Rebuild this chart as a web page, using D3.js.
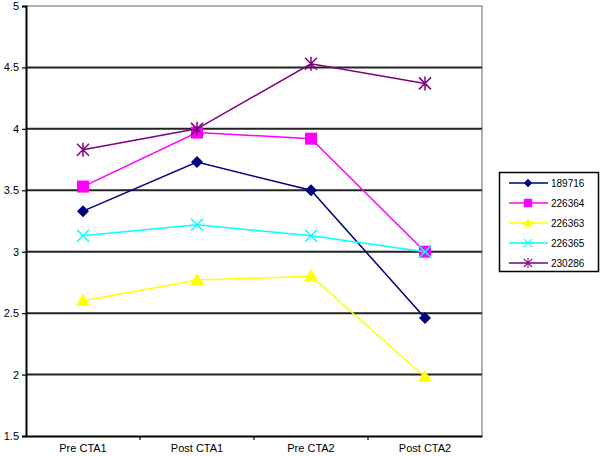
<!DOCTYPE html>
<html><head><meta charset="utf-8">
<script src="https://cdn.jsdelivr.net/npm/d3@7"></script>
<style>body{margin:0;background:#fff}svg{display:block}text{font-family:"Liberation Sans",Arial,sans-serif}</style>
</head><body>
<svg id="c" width="600" height="456"></svg>
<script>
const categories = ["Pre CTA1", "Post CTA1", "Pre CTA2", "Post CTA2"];
const seriesNames = ["189716", "226364", "226363", "226365", "230286"];
const s189716 = [3.33, 3.73, 3.5, 2.46];
const s226364 = [3.53, 3.97, 3.92, 3.0];
const s226363 = [2.6, 2.77, 2.8, 1.98];
const s226365 = [3.13, 3.22, 3.13, 3.0];
const s230286 = [3.83, 4.0, 4.53, 4.37];
const yTicks = [1.5, 2, 2.5, 3, 3.5, 4, 4.5, 5];
const colors = ["#000080", "#ff00ff", "#ffff00", "#00ffff", "#800080"];
const markers = ["diamond", "square", "triangle", "x", "star"];
const seriesValues = [s189716, s226364, s226363, s226365, s230286];

const svg = d3.select("#c");
const L = 26, R = 482, T = 6, B = 436;
const x = d3.scaleBand().domain(categories).range([L, R]);
const y = d3.scaleLinear().domain([1.5, 5]).range([B, T]);

// plot border (top/right gray)
svg.append("path").attr("d", `M${L},${T}H${R}V${B}`).attr("fill", "none").attr("stroke", "#999").attr("stroke-width", 1.5);
// gridlines
svg.append("g").selectAll("line").data(yTicks.filter(t => t > 1.5 && t < 5)).join("line")
  .attr("x1", L).attr("x2", R).attr("y1", d => y(d)).attr("y2", d => y(d))
  .attr("stroke", "#222").attr("stroke-width", 2);

// y axis
const ya = svg.append("g").attr("transform", `translate(${L},0)`)
  .call(d3.axisLeft(y).tickValues(yTicks).tickSize(4).tickPadding(3).tickFormat(d => String(d)));
ya.select(".domain").attr("stroke", "#000").attr("stroke-width", 2);
ya.selectAll(".tick line").attr("stroke", "#000").attr("stroke-width", 1.2);
ya.selectAll("text").attr("font-size", 11).attr("fill", "#000").attr("font-family", "Liberation Sans, Arial");

// x axis
const xa = svg.append("g").attr("transform", `translate(0,${B})`)
  .call(d3.axisBottom(x).tickSize(0).tickPadding(8));
xa.select(".domain").attr("stroke", "#000").attr("stroke-width", 2);
xa.selectAll("text").attr("font-size", 11).attr("fill", "#000").attr("font-family", "Liberation Sans, Arial");
svg.append("g").selectAll("line").data(categories.slice(1)).join("line")
  .attr("x1", d => x(d)).attr("x2", d => x(d)).attr("y1", B).attr("y2", B + 4)
  .attr("stroke", "#000").attr("stroke-width", 1.2);

function drawMarker(g, type, color, cx, cy) {
  if (type === "diamond") {
    g.append("path").attr("d", `M${cx},${cy-6}L${cx+6},${cy}L${cx},${cy+6}L${cx-6},${cy}Z`).attr("fill", color);
  } else if (type === "square") {
    g.append("rect").attr("x", cx-6).attr("y", cy-6).attr("width", 12).attr("height", 12).attr("fill", color);
  } else if (type === "triangle") {
    g.append("path").attr("d", `M${cx},${cy-7}L${cx+7},${cy+5}L${cx-7},${cy+5}Z`).attr("fill", color);
  } else if (type === "x") {
    g.append("path").attr("d", `M${cx-6},${cy-6}L${cx+6},${cy+6}M${cx+6},${cy-6}L${cx-6},${cy+6}`).attr("stroke", color).attr("stroke-width", 1.5);
  } else if (type === "star") {
    g.append("path").attr("d", `M${cx-6},${cy-6}L${cx+6},${cy+6}M${cx+6},${cy-6}L${cx-6},${cy+6}M${cx},${cy-7}L${cx},${cy+7}`).attr("stroke", color).attr("stroke-width", 1.5);
  }
}

const line = d3.line().x((d, i) => x(categories[i]) + x.bandwidth() / 2).y(d => y(d));
seriesValues.forEach((vals, si) => {
  const g = svg.append("g");
  g.append("path").datum(vals).attr("d", line).attr("fill", "none").attr("stroke", colors[si]).attr("stroke-width", 1.5);
  vals.forEach((v, i) => drawMarker(g, markers[si], colors[si], x(categories[i]) + x.bandwidth() / 2, y(v)));
});

// legend
const lg = svg.append("g");
lg.append("rect").attr("x", 499.5).attr("y", 172.5).attr("width", 99).attr("height", 99).attr("fill", "#fff").attr("stroke", "#000").attr("stroke-width", 1.5);
seriesNames.forEach((n, i) => {
  const ly = 183 + i * 20;
  lg.append("line").attr("x1", 509).attr("x2", 548).attr("y1", ly).attr("y2", ly).attr("stroke", colors[i]).attr("stroke-width", 1.5);
  const mg = lg.append("g").attr("transform", `translate(528,${ly}) scale(0.7) translate(-528,${-ly})`);
  drawMarker(mg, markers[i], colors[i], 528, ly);
  lg.append("text").attr("x", 551).attr("y", ly).attr("dy", "0.35em").attr("font-size", 10).attr("fill", "#000").text(n);
});
</script>
</body></html>
